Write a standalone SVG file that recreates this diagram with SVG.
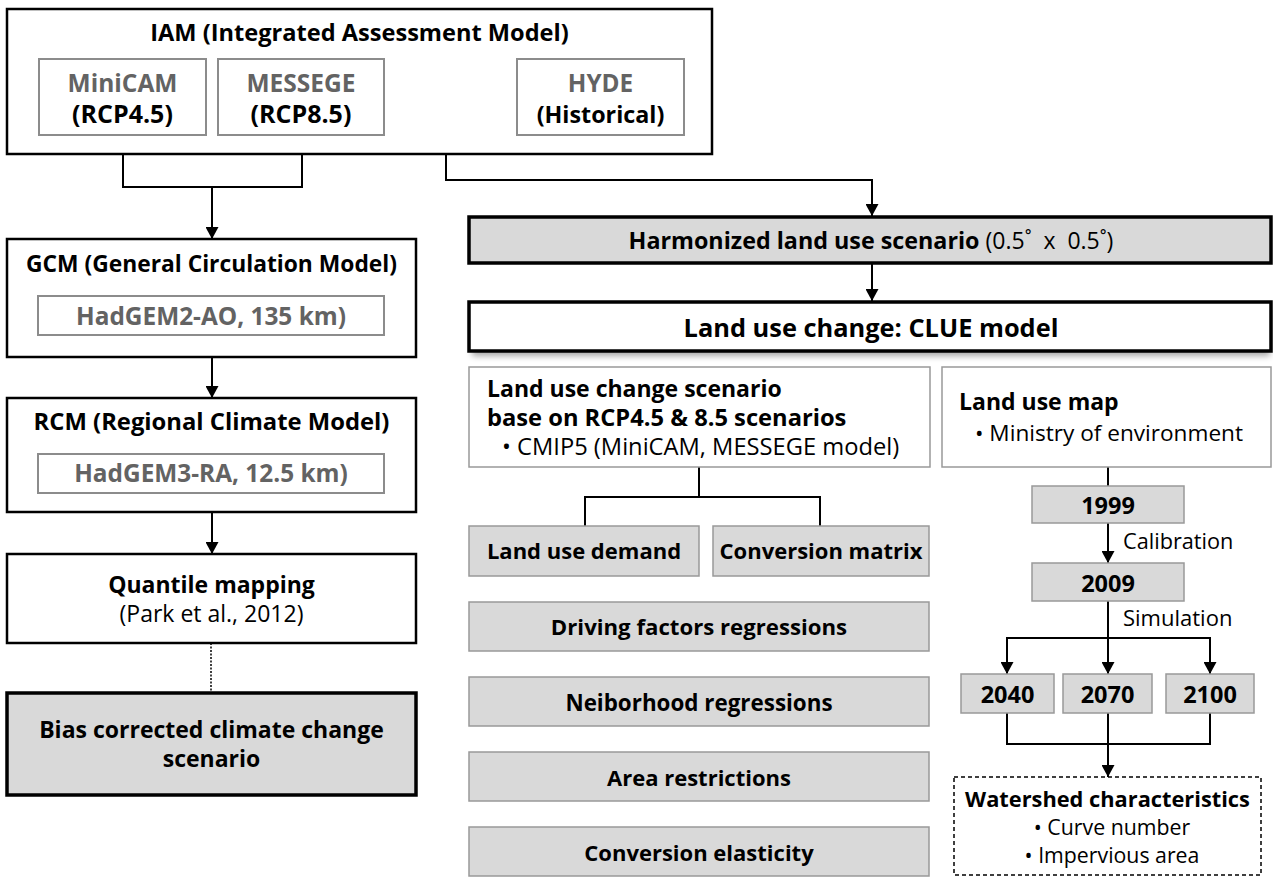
<svg xmlns="http://www.w3.org/2000/svg" width="1273" height="878" viewBox="0 0 1273 878">
<style>
text{font-family:"Open Sans","Noto Sans","DejaVu Sans",sans-serif;fill:#000}
.b{font-weight:bold;font-size:22px}
.r{font-weight:normal;font-size:23px}
.g{fill:#636363}
.c{text-anchor:middle}
.main{fill:#fff;stroke:#000;stroke-width:2.5}
.thick{stroke-width:3.5}
.inner{fill:#fff;stroke:#8c8c8c;stroke-width:2}
.lite{fill:#fff;stroke:#999;stroke-width:1.5}
.grey{fill:#d9d9d9;stroke:#999;stroke-width:1.5}
.ln{fill:none;stroke:#000;stroke-width:2}
.arr{marker-end:url(#ah)}
.dot{fill:none;stroke:#000;stroke-width:1.5;stroke-dasharray:2 1.5}
</style>
<defs>
<marker id="ah" markerUnits="userSpaceOnUse" markerWidth="13" markerHeight="13" refX="12" refY="6.5" orient="auto" viewBox="0 0 13 13">
<path d="M0,0 L12,6.5 L0,13 z" fill="#000"/>
</marker>
<filter id="sh" x="-5%" y="-20%" width="110%" height="160%">
<feGaussianBlur stdDeviation="3"/>
</filter>
</defs>
<rect width="1273" height="878" fill="#fff"/>

<g id="connectors">
<polyline class="ln" points="123,135 123,187 302,187 302,135"/>
<line class="ln arr" x1="212" y1="187" x2="212" y2="239"/>
<line class="dot" x1="384" y1="97" x2="517" y2="97"/>
<polyline class="ln arr" points="446,97 446,180 872,180 872,216"/>
<line class="ln arr" x1="872" y1="263" x2="872" y2="301"/>
<line class="ln arr" x1="212" y1="357" x2="212" y2="398"/>
<line class="ln arr" x1="212" y1="512" x2="212" y2="554"/>
<line class="dot" x1="211" y1="643" x2="211" y2="693"/>
<line class="ln" x1="699" y1="467" x2="699" y2="497"/>
<polyline class="ln" points="585,526 585,497 820,497 820,526"/>
<line class="ln" x1="1108" y1="467" x2="1108" y2="486"/>
<line class="ln arr" x1="1108" y1="523" x2="1108" y2="563"/>
<line class="ln arr" x1="1108" y1="601" x2="1108" y2="674"/>
<polyline class="ln arr" points="1108,638 1007,638 1007,674"/>
<polyline class="ln arr" points="1108,638 1210,638 1210,674"/>
<polyline class="ln" points="1007,713 1007,744 1210,744 1210,713"/>
<line class="ln arr" x1="1108" y1="713" x2="1108" y2="777"/>
</g>

<g id="iam">
<rect class="main" x="7" y="9" width="705" height="145"/>
<text class="b c" x="359.5" y="41" style="font-size:23.6px">IAM (Integrated Assessment Model)</text>
</g>
<g id="minicam">
<rect class="inner" x="39" y="59" width="167" height="76"/>
<text class="b c g" x="122.5" y="92" style="font-size:24.5px">MiniCAM</text>
<text class="b c" x="122.5" y="123" style="font-size:25px">(RCP4.5)</text>
</g>
<g id="messege">
<rect class="inner" x="218" y="59" width="166" height="76"/>
<text class="b c g" x="301" y="92" style="font-size:24.5px">MESSEGE</text>
<text class="b c" x="301" y="123" style="font-size:25px">(RCP8.5)</text>
</g>
<g id="hyde">
<rect class="inner" x="517" y="59" width="167" height="76"/>
<text class="b c g" x="600.5" y="92" style="font-size:24.3px">HYDE</text>
<text class="b c" x="600.5" y="123" style="font-size:23.3px">(Historical)</text>
</g>

<g id="gcm">
<rect class="main" x="7" y="239" width="409" height="118"/>
<text class="b c" x="211.5" y="272" style="font-size:22.8px">GCM (General Circulation Model)</text>
<rect class="inner" x="38" y="296" width="346" height="39"/>
<text class="b c g" x="211" y="325" style="font-size:24.4px">HadGEM2-AO, 135 km)</text>
</g>
<g id="rcm">
<rect class="main" x="7" y="398" width="409" height="114"/>
<text class="b c" x="211.5" y="430" style="font-size:23.8px">RCM (Regional Climate Model)</text>
<rect class="inner" x="38" y="454" width="346" height="39"/>
<text class="b c g" x="211" y="482" style="font-size:24.4px">HadGEM3-RA, 12.5 km)</text>
</g>
<g id="quantile">
<rect class="main" x="7" y="554" width="409" height="89"/>
<text class="b c" x="211.5" y="593" style="font-size:23px">Quantile mapping</text>
<text class="r c" x="211.5" y="622">(Park et al., 2012)</text>
</g>
<g id="bias">
<rect class="main thick" x="7" y="693" width="409" height="102" style="fill:#d9d9d9"/>
<text class="b c" x="211.5" y="738" style="font-size:23px">Bias corrected climate change</text>
<text class="b c" x="211.5" y="767" style="font-size:23px">scenario</text>
</g>

<g id="harmonized">
<rect class="main thick" x="469" y="217" width="802" height="46" style="fill:#d9d9d9"/>
<text class="c" x="871" y="249"><tspan class="b" style="font-size:23.3px">Harmonized land use scenario</tspan><tspan class="r"> (0.5˚ &#160;x&#160; 0.5˚)</tspan></text>
</g>
<g id="clue">
<rect x="472" y="308" width="798" height="48" fill="#000" opacity="0.35" filter="url(#sh)"/>
<rect class="main thick" x="469" y="302" width="802" height="49"/>
<text class="b c" x="871" y="337" style="font-size:25.4px">Land use change: CLUE model</text>
</g>
<g id="luc-scenario">
<rect class="lite" x="469" y="367" width="461" height="100"/>
<text class="b" x="487" y="397" style="font-size:23px">Land use change scenario</text>
<text class="b" x="487" y="426" style="font-size:23.7px">base on RCP4.5 &amp; 8.5 scenarios</text>
<text class="r" x="502" y="455" style="font-size:23.7px">• CMIP5 (MiniCAM, MESSEGE model)</text>
</g>
<g id="lu-map">
<rect class="lite" x="942" y="367" width="329" height="100"/>
<text class="b" x="959" y="410" style="font-size:23px">Land use map</text>
<text class="r" x="975" y="441" style="font-size:22.6px">• Ministry of environment</text>
</g>
<g id="lu-demand">
<rect class="grey" x="469" y="526" width="230" height="50"/>
<text class="b c" x="584" y="559">Land use demand</text>
</g>
<g id="conv-matrix">
<rect class="grey" x="713" y="526" width="216" height="50"/>
<text class="b c" x="821" y="559">Conversion matrix</text>
</g>
<g id="driving">
<rect class="grey" x="469" y="602" width="460" height="49"/>
<text class="b c" x="699" y="635" style="font-size:22.2px">Driving factors regressions</text>
</g>
<g id="neighborhood">
<rect class="grey" x="469" y="677" width="460" height="49"/>
<text class="b c" x="699" y="711" style="font-size:22.4px">Neiborhood regressions</text>
</g>
<g id="area">
<rect class="grey" x="469" y="752" width="460" height="49"/>
<text class="b c" x="699" y="786">Area restrictions</text>
</g>
<g id="elasticity">
<rect class="grey" x="469" y="827" width="460" height="49"/>
<text class="b c" x="699" y="861">Conversion elasticity</text>
</g>

<g id="y1999">
<rect class="grey" x="1032" y="486" width="152" height="37"/>
<text class="b c" x="1108" y="514" style="font-size:23.5px">1999</text>
</g>
<g id="y2009">
<rect class="grey" x="1032" y="563" width="152" height="38"/>
<text class="b c" x="1108" y="592" style="font-size:23.5px">2009</text>
</g>
<text class="r" x="1123" y="549" style="font-size:21.7px">Calibration</text>
<text class="r" x="1123" y="626" style="font-size:22px">Simulation</text>
<g id="y2040">
<rect class="grey" x="961" y="674" width="93" height="39"/>
<text class="b c" x="1007.5" y="703" style="font-size:23.5px">2040</text>
</g>
<g id="y2070">
<rect class="grey" x="1063" y="674" width="89" height="39"/>
<text class="b c" x="1107.5" y="703" style="font-size:23.5px">2070</text>
</g>
<g id="y2100">
<rect class="grey" x="1166" y="674" width="88" height="39"/>
<text class="b c" x="1210" y="703" style="font-size:23.5px">2100</text>
</g>
<g id="watershed">
<rect x="954" y="777" width="307" height="98" fill="#fff" stroke="#000" stroke-width="1.5" stroke-dasharray="4 3"/>
<text class="b c" x="1107.5" y="807" style="font-size:21.8px">Watershed characteristics</text>
<text class="r c" x="1112" y="835" style="font-size:21.3px">• Curve number</text>
<text class="r c" x="1112" y="863" style="font-size:21.3px">• Impervious area</text>
</g>
</svg>
